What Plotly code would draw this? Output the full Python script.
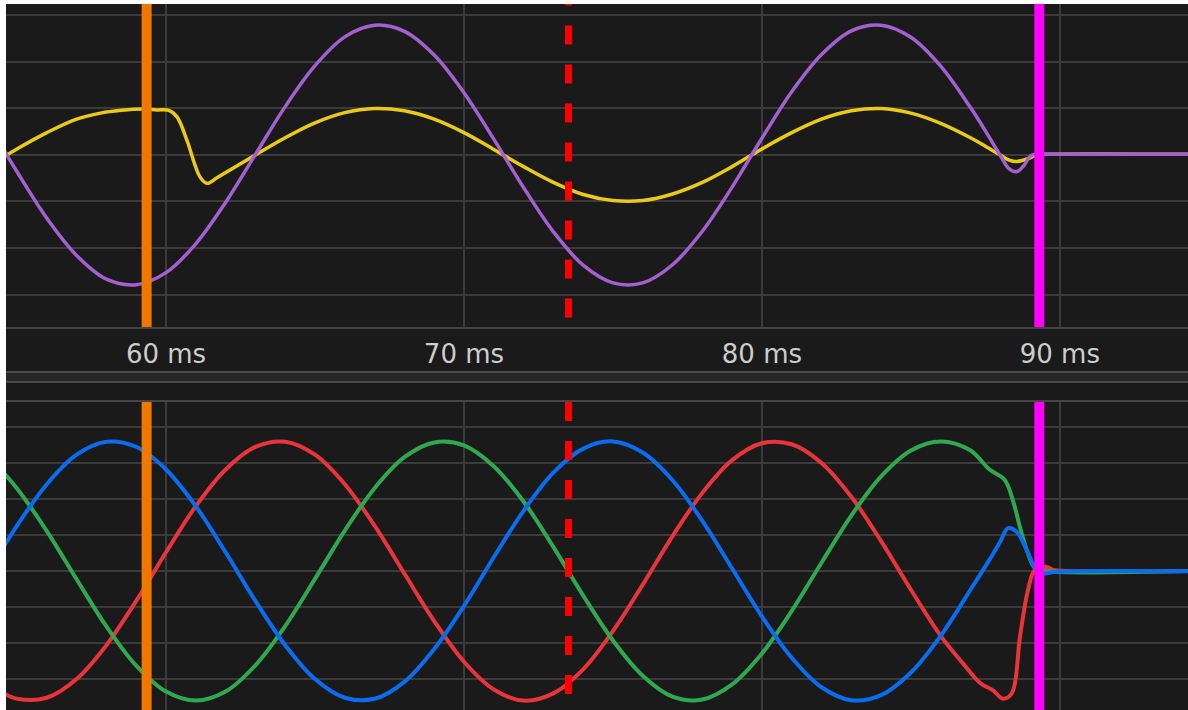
import plotly.graph_objects as go

# ---------------- data ----------------
tick_ms = [60, 70, 80, 90]
tick_text = ["60 ms", "70 ms", "80 ms", "90 ms"]

# cursor positions (ms): orange, red dashed, magenta
cursor_ms = [59.35, 73.51, 89.31]

# top panel
t_purple = [54.5, 55, 56, 57, 58, 59, 60, 61, 62, 63, 64, 65, 66, 67, 68, 69, 70, 71, 72, 73, 74,
            75, 76, 77, 78, 79, 80, 81, 82, 83, 84, 85, 86, 87, 87.5, 88, 88.3, 88.55, 88.8, 89.0,
            89.2, 89.5, 94.5]
v_purple = [0.17, -0.36, -1.36, -2.16, -2.67, -2.79, -2.53, -1.91, -1.02, 0.01, 1.04, 1.92, 2.54,
            2.79, 2.66, 2.15, 1.34, 0.34, -0.70, -1.65, -2.37, -2.75, -2.75, -2.36, -1.64, -0.69,
            0.36, 1.36, 2.16, 2.67, 2.79, 2.53, 1.91, 1.02, 0.52, -0.01, -0.30, -0.36, -0.22, -0.03,
            0.02, 0.015, 0.015]

t_yellow = [54.5, 55, 56, 57, 57.8, 58.5, 59.2, 59.7, 60.1, 60.37, 60.7, 61.14, 61.38, 61.71, 62.05,
            62.5, 63, 64, 65, 66, 67, 68, 69, 70, 71, 72, 73, 74, 75, 76, 77, 78, 79, 80, 81, 82, 83,
            84, 85, 86, 87, 87.5, 88, 88.3, 88.56, 88.99, 89.2, 89.5, 94.5]
v_yellow = [-0.06, 0.13, 0.48, 0.77, 0.90, 0.96, 0.99, 0.97, 0.96, 0.82, 0.32, -0.47, -0.61, -0.49,
            -0.36, -0.19, 0.0, 0.37, 0.69, 0.91, 1.00, 0.95, 0.77, 0.48, 0.12, -0.25, -0.59, -0.85,
            -0.98, -0.98, -0.84, -0.59, -0.25, 0.13, 0.48, 0.77, 0.95, 1.00, 0.90, 0.68, 0.37, 0.19,
            0.0, -0.11, -0.14, -0.065, 0.0, 0.015, 0.015]

# bottom panel
t_red = [54.5, 55, 56, 57, 58, 59, 60, 61, 62, 63, 64, 65, 66, 67, 68, 69, 70, 71, 72, 73, 74, 75,
         76, 77, 78, 79, 80, 81, 82, 83, 84, 85, 86, 86.74, 87.32, 87.75, 88.09, 88.39, 88.66,
         88.93, 89.16, 89.56, 89.77, 90.2, 94.5]
v_red = [-3.37, -3.55, -3.52, -3.00, -2.06, -0.83, 0.52, 1.80, 2.82, 3.45, 3.59, 3.23, 2.41, 1.26,
         -0.07, -1.39, -2.52, -3.29, -3.60, -3.40, -2.73, -1.67, -0.38, 0.97, 2.17, 3.08, 3.55,
         3.52, 3.00, 2.06, 0.83, -0.52, -1.80, -2.56, -3.11, -3.31, -3.55, -3.39, -1.83, -0.53,
         0.03, 0.11, 0.03, 0.0, 0.0]

t_green = [54.5, 55, 56, 57, 58, 59, 60, 61, 62, 63, 64, 65, 66, 67, 68, 69, 70, 71, 72, 73, 74,
           75, 76, 77, 78, 79, 80, 81, 82, 83, 84, 85, 86, 86.98, 87.65, 88.15, 88.42, 88.66,
           88.89, 89.16, 89.5, 94.5]
v_green = [2.77, 2.29, 1.11, -0.23, -1.54, -2.63, -3.35, -3.60, -3.35, -2.62, -1.53, -0.22, 1.12,
           2.30, 3.16, 3.57, 3.49, 2.91, 1.93, 0.67, -0.68, -1.93, -2.91, -3.49, -3.57, -3.15,
           -2.29, -1.11, 0.23, 1.54, 2.63, 3.35, 3.60, 3.36, 2.81, 2.53, 1.97, 1.22, 0.58, 0.08,
           0.0, 0.0]

t_blue = [54.5, 55, 56, 57, 58, 59, 60, 61, 62, 63, 64, 65, 66, 67, 68, 69, 70, 71, 72, 73, 74,
          75, 76, 77, 78, 79, 80, 81, 82, 83, 84, 85, 86, 87, 87.65, 88.0, 88.26, 88.56, 88.89,
          89.16, 89.43, 89.9, 94.5]
v_blue = [0.60, 1.26, 2.41, 3.23, 3.59, 3.45, 2.82, 1.80, 0.52, -0.83, -2.06, -3.00, -3.52, -3.55,
          -3.08, -2.17, -0.97, 0.38, 1.67, 2.73, 3.40, 3.60, 3.29, 2.52, 1.39, 0.07, -1.26, -2.41,
          -3.23, -3.59, -3.45, -2.82, -1.80, -0.52, 0.33, 0.82, 1.19, 1.08, 0.58, 0.11, -0.06,
          -0.02, -0.01]

# ---------------- style ----------------
BG = "#1a1a1a"
GRID = "#3b3b3b"
W, H = 1188, 710
ML, MT = 6, 4
X_RANGE = [54.63, 94.30]
TOP_RANGE = [-3.699, 3.247]
BOT_RANGE = [-3.861, 4.694]


def pfrac(py):
    """paper y fraction from a pixel row"""
    return (H - py) / (H - MT)


fig = go.Figure()

fig.add_trace(go.Scatter(x=t_yellow, y=v_yellow, mode="lines", xaxis="x", yaxis="y",
                         line=dict(color="#e9c919", width=3.5, shape="spline"), hoverinfo="skip"))
fig.add_trace(go.Scatter(x=t_purple, y=v_purple, mode="lines", xaxis="x", yaxis="y",
                         line=dict(color="#a45fd0", width=3.5, shape="spline"), hoverinfo="skip"))
fig.add_trace(go.Scatter(x=t_red, y=v_red, mode="lines", xaxis="x2", yaxis="y2",
                         line=dict(color="#e8343a", width=4, shape="spline"), hoverinfo="skip"))
fig.add_trace(go.Scatter(x=t_green, y=v_green, mode="lines", xaxis="x2", yaxis="y2",
                         line=dict(color="#2fa84f", width=4, shape="spline"), hoverinfo="skip"))
fig.add_trace(go.Scatter(x=t_blue, y=v_blue, mode="lines", xaxis="x2", yaxis="y2",
                         line=dict(color="#0a6cf0", width=4, shape="spline"), hoverinfo="skip"))

shapes = []
# dark canvas
shapes.append(dict(type="rect", xref="paper", yref="paper", x0=0, x1=1, y0=0, y1=1,
                   fillcolor=BG, line=dict(width=0), layer="below"))
# separator band
shapes.append(dict(type="rect", xref="paper", yref="paper", x0=0, x1=1,
                   y0=pfrac(382), y1=pfrac(372), fillcolor="#262626",
                   line=dict(width=0), layer="below"))
for py in (372, 382):
    shapes.append(dict(type="line", xref="paper", yref="paper", x0=0, x1=1,
                       y0=pfrac(py), y1=pfrac(py), line=dict(color="#4a4a4a", width=2)))

orange, red_c, magenta = cursor_ms
for xr, yr in (("x", "y"), ("x2", "y2")):
    shapes.append(dict(type="line", xref=xr, yref=yr + " domain", x0=orange, x1=orange, y0=0, y1=1,
                       line=dict(color="#ee7800", width=10)))
    shapes.append(dict(type="line", xref=xr, yref=yr + " domain", x0=magenta, x1=magenta, y0=0, y1=1,
                       line=dict(color="#ff00ff", width=10)))
# red dashed cursor (starts above panel so the dash phase matches)
shapes.append(dict(type="line", xref="x", yref="y", x0=red_c, x1=red_c, y0=3.624, y1=-3.70,
                   line=dict(color="#ff0000", width=7, dash="19px,20px")))
shapes.append(dict(type="line", xref="x2", yref="y2", x0=red_c, x1=red_c, y0=4.694, y1=-3.9,
                   line=dict(color="#ff0000", width=7, dash="19px,20px")))

fig.update_layout(
    width=W, height=H,
    margin=dict(l=ML, r=0, t=MT, b=0, pad=0),
    paper_bgcolor="white",
    plot_bgcolor=BG,
    showlegend=False,
    shapes=shapes,
    xaxis=dict(domain=[0, 1], range=X_RANGE, anchor="y", tickvals=tick_ms, ticktext=tick_text,
               showgrid=True, gridcolor=GRID, gridwidth=2, zeroline=False,
               showline=True, linecolor="#454545", linewidth=2, ticks="",
               ticklabelstandoff=3,
               tickfont=dict(family="DejaVu Sans", size=26, color="#cdcdcd")),
    yaxis=dict(domain=[pfrac(327), 1], range=TOP_RANGE, dtick=1, tick0=0, showticklabels=False,
               showgrid=True, gridcolor=GRID, gridwidth=2, zeroline=False, ticks=""),
    xaxis2=dict(domain=[0, 1], range=X_RANGE, anchor="y2", matches="x", side="top",
                tickvals=tick_ms, showticklabels=False, showgrid=True, gridcolor=GRID,
                gridwidth=2, zeroline=False, showline=True, linecolor="#454545", linewidth=2,
                ticks=""),
    yaxis2=dict(domain=[0, pfrac(402)], range=BOT_RANGE, dtick=1, tick0=0, showticklabels=False,
                showgrid=True, gridcolor=GRID, gridwidth=2, zeroline=False, ticks=""),
)

fig.write_html("out.html", config={"displayModeBar": False},
               post_script="document.body.style.margin='0';document.body.style.overflow='hidden';")
